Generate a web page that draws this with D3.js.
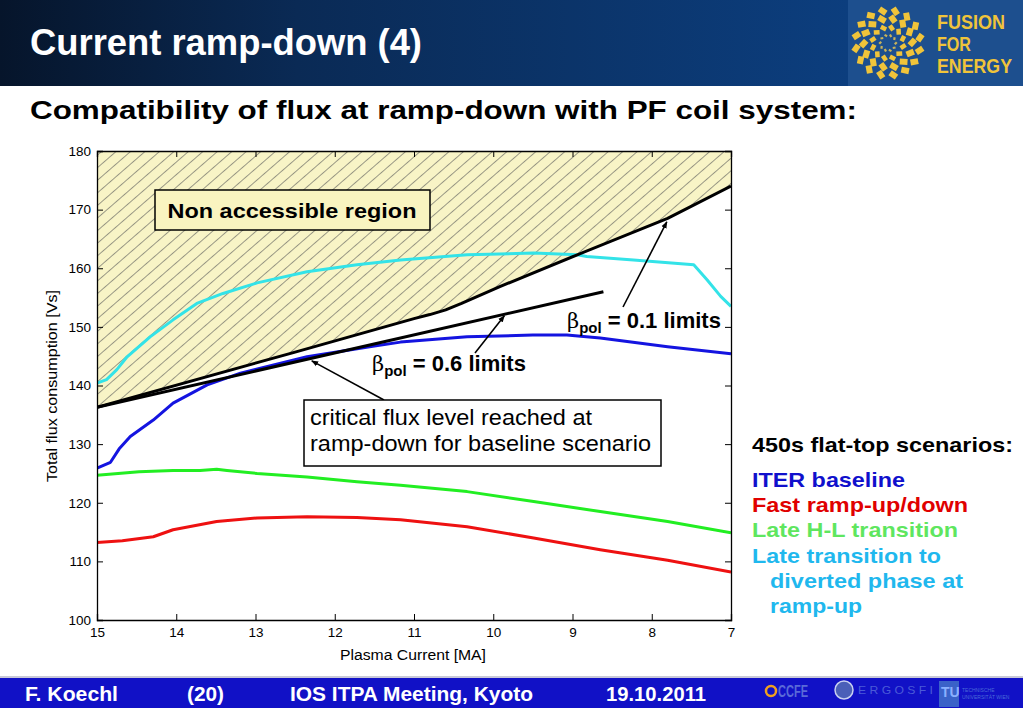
<!DOCTYPE html>
<html><head><meta charset="utf-8">
<script src="https://cdn.jsdelivr.net/npm/d3@7"></script>
<style>html,body{margin:0;padding:0;background:#fff;}svg{display:block;font-family:"Liberation Sans",Arial,sans-serif;}</style>
</head><body>
<svg id="c" width="1023" height="708"></svg>
<script>
// ---------- data ----------
const maTicks = [15,14,13,12,11,10,9,8,7];
const fluxTicks = [100,110,120,130,140,150,160,170,180];

const baselineMA   = [15,14.83,14.72,14.58,14.29,14.04,13.61,13.19,12.35,11.52,11.17,10.33,9.5,9.07,8.65,7.8,7.0];
const baselineFlux = [125.9,126.9,129.2,131.3,134.1,137.0,140.1,142.1,144.9,146.7,147.4,148.3,148.6,148.6,148.1,146.6,145.4];

const fastMA   = [15,14.68,14.29,14.04,13.49,12.98,12.35,11.72,11.17,10.33,9.49,8.65,7.8,7.0];
const fastFlux = [113.2,113.5,114.2,115.4,116.8,117.4,117.6,117.5,117.1,115.9,114.0,112.0,110.2,108.2];

const lateHLMA   = [15,14.47,14.04,13.7,13.49,13.36,12.98,12.35,11.72,11.17,10.33,9.49,8.65,7.8,7.0];
const lateHLFlux = [124.7,125.3,125.5,125.5,125.7,125.5,125.0,124.4,123.6,123.0,121.9,120.2,118.5,116.8,114.9];

const lateDivMA   = [15,14.88,14.75,14.62,14.33,14.04,13.74,13.41,12.98,12.35,11.72,11.17,10.33,9.49,8.94,8.82,8.23,7.47,7.30,7.13,7.0];
const lateDivFlux = [140.4,141.0,142.7,144.9,148.3,151.2,154.0,155.7,157.5,159.4,160.6,161.4,162.3,162.6,162.3,162.0,161.4,160.6,158.0,155.2,153.5];

const beta01MA   = [15,12.5,11.0,10.8,10.6,10.4,9.91,8.94,7.8,7.0];
const beta01Flux = [136.3,145.7,151.4,152.1,152.9,154.0,156.9,162.3,168.5,174.0];

const beta06MA   = [15,8.61];
const beta06Flux = [136.3,156.0];

// ---------- setup ----------
const svg = d3.select("#c");
const x = d3.scaleLinear().domain([15,7]).range([97,731]);
const y = d3.scaleLinear().domain([100,180]).range([620,151]);
const zip = (a,b)=>a.map((v,i)=>[v,b[i]]);

const defs = svg.append("defs");
const hg = defs.append("linearGradient").attr("id","hdr").attr("x1","0").attr("x2","1");
hg.append("stop").attr("offset","0").attr("stop-color","#06152b");
hg.append("stop").attr("offset","0.35").attr("stop-color","#0a2a55");
hg.append("stop").attr("offset","1").attr("stop-color","#0c3e7e");
const pat = defs.append("pattern").attr("id","hatch").attr("patternUnits","userSpaceOnUse")
  .attr("width",20).attr("height",9.5).attr("patternTransform","rotate(-41)");
pat.append("rect").attr("width",20).attr("height",9.5).attr("fill","#f8f4c6");
pat.append("line").attr("x1",0).attr("x2",20).attr("y1",0.5).attr("y2",0.5).attr("stroke","#555").attr("stroke-width",0.6);
defs.append("clipPath").attr("id","plot").append("rect")
  .attr("x",x(15)).attr("y",y(180)).attr("width",x(7)-x(15)).attr("height",y(100)-y(180));
const mk = defs.append("marker").attr("id","arr").attr("viewBox","0 0 10 10").attr("refX",9).attr("refY",5)
  .attr("markerWidth",7).attr("markerHeight",7).attr("orient","auto").attr("markerUnits","userSpaceOnUse");
mk.append("path").attr("d","M0,1 L10,5 L0,9 z").attr("fill","#000");

// ---------- header ----------
svg.append("rect").attr("x",0).attr("y",0).attr("width",848).attr("height",86).attr("fill","url(#hdr)");
svg.append("rect").attr("x",848).attr("y",0).attr("width",175).attr("height",86).attr("fill","#1d4f8e");
svg.append("text").attr("x",30).attr("y",55).attr("fill","#fff").attr("font-weight","bold")
  .attr("font-size",36).attr("textLength",392).attr("lengthAdjust","spacingAndGlyphs").text("Current ramp-down (4)");
// F4E logo
const lg = svg.append("g").attr("transform","translate(888,43)");
const rings = [{r:8,n:10,s:2.2},{r:16,n:12,s:4.5},{r:25,n:14,s:6},{r:33,n:16,s:6}];
rings.forEach((rg,k)=>{
  d3.range(rg.n).forEach(i=>{
    const a = 2*Math.PI*i/rg.n + k*0.2;
    lg.append("rect").attr("x",-rg.s/2).attr("y",-rg.s/2).attr("width",rg.s).attr("height",rg.s*1.3)
      .attr("fill",k===0?"#c9b35a":"#f0c43a")
      .attr("transform",`translate(${rg.r*Math.cos(a)},${rg.r*Math.sin(a)}) rotate(${a*180/Math.PI+45})`);
  });
});
[["FUSION",29,68],["FOR",51,34],["ENERGY",73,75]].forEach(([t,yy,w])=>{
  svg.append("text").attr("x",937).attr("y",yy).attr("fill","#f0c43a").attr("font-weight","bold")
    .attr("font-family","'Liberation Sans Narrow','Liberation Sans',sans-serif").attr("font-size",19.5)
    .attr("textLength",w).attr("lengthAdjust","spacingAndGlyphs").text(t);
});

// subtitle
svg.append("text").attr("x",30).attr("y",119).attr("fill","#000").attr("font-weight","bold")
  .attr("font-size",25.5).attr("textLength",827).attr("lengthAdjust","spacingAndGlyphs")
  .text("Compatibility of flux at ramp-down with PF coil system:");

// ---------- plot ----------
const plot = svg.append("g");
const regionPts = [[15,180]].concat(zip(beta01MA,beta01Flux)).concat([[7,180]]);
plot.append("path").attr("clip-path","url(#plot)")
  .attr("d", d3.line().x(d=>x(d[0])).y(d=>y(d[1]))(regionPts)+"Z")
  .attr("fill","url(#hatch)");

const line = d3.line().x(d=>x(d[0])).y(d=>y(d[1]));
const series = [
  [lateDivMA,lateDivFlux,"#33e3e8"],
  [fastMA,fastFlux,"#ee1111"],
  [lateHLMA,lateHLFlux,"#22ee22"],
  [baselineMA,baselineFlux,"#1414e0"],
  [beta06MA,beta06Flux,"#000"],
  [beta01MA,beta01Flux,"#000"]
];
series.forEach(([m,f,c])=>{
  plot.append("path").attr("clip-path","url(#plot)").attr("d",line(zip(m,f)))
    .attr("fill","none").attr("stroke",c).attr("stroke-width",3).attr("stroke-linejoin","round");
});

// axes (inward ticks)
const fs = 13.5;
const axB = svg.append("g").attr("transform",`translate(0,${y(100)})`)
  .call(d3.axisBottom(x).tickValues(maTicks).tickSize(-6).tickPadding(10).tickFormat(d3.format("d")));
const axT = svg.append("g").attr("transform",`translate(0,${y(180)})`)
  .call(d3.axisTop(x).tickValues(maTicks).tickSize(-6).tickFormat(""));
const axL = svg.append("g").attr("transform",`translate(${x(15)},0)`)
  .call(d3.axisLeft(y).tickValues(fluxTicks).tickSize(-6).tickPadding(10).tickFormat(d3.format("d")));
const axR = svg.append("g").attr("transform",`translate(${x(7)},0)`)
  .call(d3.axisRight(y).tickValues(fluxTicks).tickSize(-6).tickFormat(""));
[axB,axT,axL,axR].forEach(a=>{
  a.selectAll("path.domain").attr("stroke","#000").attr("stroke-width",1.3);
  a.selectAll(".tick line").attr("stroke","#000").attr("stroke-width",1);
  a.selectAll(".tick text").attr("font-size",fs).attr("fill","#000")
    .attr("font-family","'Liberation Sans',Arial,sans-serif");
});
axB.selectAll(".tick text").attr("dy","0.55em");
axL.selectAll(".tick text").attr("dx","0.3em");

svg.append("text").attr("x",413).attr("y",660).attr("text-anchor","middle").attr("font-size",14)
  .attr("textLength",146).attr("lengthAdjust","spacingAndGlyphs").text("Plasma Current [MA]");
svg.append("text").attr("transform","translate(57,386) rotate(-90)").attr("text-anchor","middle")
  .attr("font-size",14.5).attr("textLength",192).attr("lengthAdjust","spacingAndGlyphs")
  .text("Total flux consumption [Vs]");

// ---------- annotations ----------
svg.append("rect").attr("x",155).attr("y",190).attr("width",275).attr("height",40)
  .attr("fill","#f9f4c0").attr("stroke","#000").attr("stroke-width",1.5);
svg.append("text").attr("x",292).attr("y",218).attr("text-anchor","middle").attr("font-weight","bold")
  .attr("font-size",21).attr("textLength",249).attr("lengthAdjust","spacingAndGlyphs").text("Non accessible region");

function betaLabel(x0,y0,val){
  const t = svg.append("text").attr("x",x0).attr("y",y0).attr("font-size",22).attr("fill","#000");
  t.append("tspan").attr("font-family","'DejaVu Serif',serif").attr("font-size",21).text("β");
  t.append("tspan").attr("font-weight","bold").attr("font-size",15).attr("dy",5).text("pol");
  t.append("tspan").attr("font-weight","bold").attr("dy",-5).text(" = "+val+" limits");
}
betaLabel(567,328,"0.1");
betaLabel(372,371,"0.6");

function arrow(x1,y1,ma,fl){
  svg.append("line").attr("x1",x1).attr("y1",y1).attr("x2",x(ma)).attr("y2",y(fl))
    .attr("stroke","#000").attr("stroke-width",1.6).attr("marker-end","url(#arr)");
}
arrow(623,307,7.81,167.9);
arrow(475,353,9.86,151.9);
arrow(384,400,12.29,144.2);

svg.append("rect").attr("x",304).attr("y",400).attr("width",357).attr("height",66)
  .attr("fill","#fff").attr("stroke","#000").attr("stroke-width",1.5);
svg.append("text").attr("x",310).attr("y",425).attr("font-size",22)
  .attr("textLength",282).attr("lengthAdjust","spacingAndGlyphs").text("critical flux level reached at");
svg.append("text").attr("x",310).attr("y",451).attr("font-size",22)
  .attr("textLength",341).attr("lengthAdjust","spacingAndGlyphs").text("ramp-down for baseline scenario");

// ---------- legend text ----------
const legendLines = [
  ["450s flat-top scenarios:",752,452,261,"#000"],
  ["ITER baseline",752,487,153,"#1010cc"],
  ["Fast ramp-up/down",752,512,216,"#e00000"],
  ["Late H-L transition",752,537,206,"#5fe65f"],
  ["Late transition to",752,563,189,"#1fb8ee"],
  ["diverted phase at",770,588,193,"#1fb8ee"],
  ["ramp-up",770,613,92,"#1fb8ee"]
];
legendLines.forEach(([t,xx,yy,w,c])=>{
  svg.append("text").attr("x",xx).attr("y",yy).attr("font-weight","bold").attr("font-size",21)
    .attr("fill",c).attr("textLength",w).attr("lengthAdjust","spacingAndGlyphs").text(t);
});

// ---------- footer ----------
svg.append("rect").attr("x",0).attr("y",676).attr("width",1023).attr("height",2).attr("fill","#c8c8d8");
svg.append("rect").attr("x",0).attr("y",678).attr("width",1023).attr("height",30).attr("fill","#1111c6");
[["F. Koechl",25,93],["(20)",187,37],["IOS ITPA Meeting, Kyoto",290,243],["19.10.2011",606,100]].forEach(([t,xx,w])=>{
  svg.append("text").attr("x",xx).attr("y",701).attr("fill","#fff").attr("font-weight","bold")
    .attr("font-family","'Liberation Sans Narrow','Liberation Sans',sans-serif")
    .attr("font-size",20).attr("textLength",w).attr("lengthAdjust","spacingAndGlyphs").text(t);
});
// small partner logos
const fl = svg.append("g");
fl.append("circle").attr("cx",771).attr("cy",691).attr("r",5).attr("fill","none").attr("stroke","#f0a020").attr("stroke-width",2.5);
fl.append("text").attr("x",778).attr("y",697).attr("fill","#5a6ad8").attr("font-weight","bold").attr("font-size",16)
  .attr("textLength",30).attr("lengthAdjust","spacingAndGlyphs").text("CCFE");
fl.append("circle").attr("cx",844).attr("cy",690).attr("r",9).attr("fill","#4a5fb8").attr("stroke","#c8d0f0").attr("stroke-width",1.5);
fl.append("text").attr("x",858).attr("y",694).attr("fill","#4a5ad8").attr("font-size",11)
  .attr("textLength",75).attr("lengthAdjust","spacingAndGlyphs").text("E R G O S F I");
fl.append("rect").attr("x",939).attr("y",681).attr("width",20).attr("height",26).attr("fill","#3a62c8");
fl.append("text").attr("x",941).attr("y",697).attr("fill","#8ab0ff").attr("font-weight","bold").attr("font-size",14).text("TU");
fl.append("text").attr("x",962).attr("y",692).attr("fill","#4a6ad8").attr("font-size",5).text("TECHNISCHE");
fl.append("text").attr("x",962).attr("y",699).attr("fill","#4a6ad8").attr("font-size",5).text("UNIVERSITÄT WIEN");
</script>
</body></html>
